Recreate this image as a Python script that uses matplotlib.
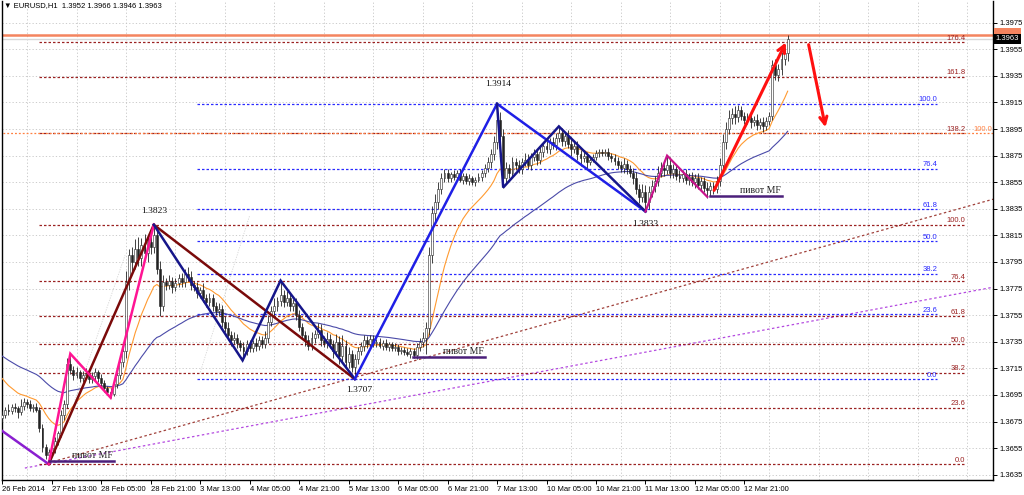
import matplotlib
matplotlib.use('Agg')
import matplotlib.pyplot as plt
from matplotlib.patches import FancyArrowPatch
from matplotlib.transforms import blended_transform_factory

plt.rcParams['font.family'] = ['Liberation Sans', 'DejaVu Sans']

# ---------------- data (prices in pips above 1.3600) ----------------
BASE = 1.3600
PIP = 0.0001
first_open = 78
closes = [80, 84, 83, 86, 85, 82, 87, 90, 88, 85,
          86, 84, 70, 56, 50, 52, 55, 60, 66, 80,
          88, 118, 114, 110, 112, 108, 110, 111, 107, 109,
          112, 108, 104, 100, 97, 96, 103, 110, 120, 128,
          180, 200, 195, 205, 198, 208, 202, 210, 206, 215,
          190, 162, 180, 178, 181, 176, 179, 183, 180, 186,
          184, 178, 176, 172, 174, 168, 165, 168, 162, 158,
          160, 150, 145, 140, 136, 138, 134, 131, 128, 133,
          130, 134, 132, 136, 133, 138, 150, 158, 162, 166,
          170, 165, 168, 162, 164, 155, 146, 140, 136, 132,
          138, 141, 144, 136, 134, 137, 133, 128, 135, 124,
          132, 120, 126, 116, 122, 128, 132, 136, 133, 137,
          134, 135, 132, 134, 131, 133, 130, 131, 128, 129,
          127, 126, 128, 125, 131, 135, 138, 145, 200, 232,
          240, 250, 258, 262, 258, 261, 259, 262, 257, 260,
          256, 258, 255, 257, 259, 262, 266, 270, 276, 285,
          302, 290, 258, 266, 262, 270, 268, 265, 270, 272,
          268, 274, 276, 272, 278, 282, 280, 285, 283, 288,
          292, 286, 290, 284, 280, 282, 276, 273, 275, 270,
          272, 274, 277, 278, 277, 278, 275, 273, 271, 268,
          266, 269, 265, 262, 258, 250, 244, 248, 240, 248,
          252, 256, 262, 266, 264, 268, 262, 265, 260, 258,
          261, 257, 259, 255, 258, 253, 256, 251, 249, 252,
          250, 256, 268, 285, 295, 303, 306, 304, 309, 305,
          302, 303, 300, 302, 298, 300, 297, 301, 305, 343,
          336, 340, 348, 352, 363]
upper_wick = [3, 2, 4, 2, 3, 2, 5, 3, 2, 3,
              2, 3, 2, 3, 2, 2, 4, 3, 2, 4,
              3, 5, 7, 3, 4, 2, 3, 4, 2, 3,
              3, 2, 3, 2, 2, 3, 4, 3, 5, 4,
              8, 5, 6, 7, 9, 5, 8, 4, 6, 9,
              4, 6, 5, 3, 4, 3, 4, 3, 4, 4,
              5, 4, 3, 4, 2, 5, 3, 4, 3, 3,
              4, 3, 4, 5, 3, 4, 3, 2, 4, 3,
              3, 2, 4, 3, 3, 5, 5, 4, 6, 3,
              11, 4, 5, 4, 3, 4, 4, 3, 3, 4,
              4, 3, 5, 4, 3, 5, 4, 3, 6, 4,
              8, 4, 5, 3, 4, 3, 3, 4, 3, 3,
              3, 2, 3, 2, 3, 2, 2, 3, 2, 2,
              2, 3, 2, 2, 3, 3, 4, 5, 6, 5,
              6, 5, 4, 3, 3, 2, 3, 2, 3, 2,
              2, 3, 2, 2, 3, 2, 3, 4, 4, 5,
              12, 6, 5, 4, 3, 4, 3, 4, 3, 5,
              4, 3, 4, 3, 4, 3, 4, 3, 4, 4,
              5, 4, 3, 4, 5, 3, 4, 3, 4, 3,
              3, 2, 2, 2, 2, 2, 3, 2, 3, 3,
              3, 4, 3, 3, 4, 5, 4, 6, 5, 4,
              5, 4, 5, 4, 5, 7, 6, 4, 3, 4,
              3, 4, 3, 4, 3, 4, 3, 3, 4, 3,
              3, 4, 5, 6, 5, 6, 5, 6, 4, 3,
              3, 4, 3, 3, 4, 3, 4, 3, 3, 4,
              5, 4, 5, 4, 3]
lower_wick = [3, 2, 3, 2, 3, 4, 2, 3, 3, 2,
              3, 2, 3, 4, 3, 7, 3, 4, 3, 3,
              4, 3, 3, 4, 2, 3, 3, 2, 3, 3,
              3, 3, 4, 3, 2, 3, 2, 3, 3, 4,
              5, 6, 7, 5, 6, 6, 5, 7, 5, 4,
              4, 8, 4, 4, 3, 4, 3, 3, 4, 4,
              3, 4, 3, 4, 4, 3, 4, 3, 4, 3,
              4, 4, 3, 4, 4, 3, 4, 3, 7, 3,
              3, 3, 4, 3, 3, 3, 4, 3, 4, 4,
              4, 4, 3, 4, 4, 4, 3, 3, 4, 3,
              3, 4, 3, 4, 3, 4, 3, 5, 4, 6,
              5, 4, 5, 4, 8, 4, 3, 4, 3, 3,
              3, 3, 2, 3, 2, 3, 2, 2, 3, 2,
              2, 2, 3, 2, 3, 3, 4, 12, 5, 6,
              6, 5, 4, 3, 3, 3, 2, 3, 2, 3,
              2, 3, 2, 3, 2, 3, 3, 3, 4, 4,
              5, 6, 7, 4, 4, 3, 4, 3, 4, 3,
              3, 4, 3, 4, 3, 4, 3, 4, 3, 4,
              3, 4, 4, 3, 5, 3, 4, 6, 3, 4,
              2, 2, 2, 3, 2, 2, 3, 3, 3, 3,
              3, 4, 4, 3, 4, 4, 5, 4, 6, 5,
              4, 4, 4, 3, 4, 3, 4, 4, 3, 3,
              3, 3, 4, 3, 4, 3, 4, 3, 6, 4,
              4, 3, 4, 5, 5, 4, 4, 5, 4, 3,
              3, 3, 4, 3, 4, 3, 4, 3, 3, 3,
              4, 5, 4, 5, 6]

time_labels = ['26 Feb 2014', '27 Feb 13:00', '28 Feb 05:00', '28 Feb 21:00',
               '3 Mar 13:00', '4 Mar 05:00', '4 Mar 21:00', '5 Mar 13:00',
               '6 Mar 05:00', '6 Mar 21:00', '7 Mar 13:00', '10 Mar 05:00',
               '10 Mar 21:00', '11 Mar 13:00', '12 Mar 05:00', '12 Mar 21:00']
price_ticks = [1.3635, 1.3655, 1.3675, 1.3695, 1.3715, 1.3735, 1.3755, 1.3775,
               1.3795, 1.3815, 1.3835, 1.3855, 1.3875, 1.3895, 1.3915, 1.3935,
               1.3955, 1.3975]

ma_fast_start, ma_fast_span = 1.3711, 16
ma_slow_start, ma_slow_span = 1.3726, 50

# zigzag / drawing objects (bar index, price)
zz_purple = [(-0.7, 1.3669), (15, 1.3643)]
zz_pink = [(15, 1.3643), (22, 1.3726), (35, 1.3693), (49, 1.3823)]
zz_maroon = [(15, 1.3643), (49, 1.3823), (114, 1.3707)]
zz_navy1 = [(49, 1.3823), (77.7, 1.3721), (90, 1.3781), (114, 1.3707)]
zz_blue = [(114, 1.3707), (160, 1.3914), (208, 1.3833)]
zz_navy2 = [(160, 1.3914), (162, 1.3851), (180, 1.3897), (208, 1.3833)]
zz_magenta = [(208, 1.3833), (215, 1.3875), (228, 1.3844)]
arrow_up = [(229.8, 1.3847), (253.8, 1.3962)]
arrow_down = [(260.6, 1.39605), (266.4, 1.38943)]

fib_blue_low, fib_blue_high = 1.3707, 1.3914
fib_blue_ratios = [0.0, 23.6, 38.2, 50.0, 61.8, 76.4, 100.0]
fib_red_low, fib_red_high = 1.3643, 1.3823
fib_red_ratios = [0.0, 23.6, 38.2, 50.0, 61.8, 76.4, 100.0, 138.2, 161.8, 176.4]
orange_level = 1.3892
top_line = 1.3966
bid_price = 1.3963

trend_brown = [(14.8, 1.36438), (320.4, 1.38422)]
trend_violet = [(7.3, 1.3640), (320.4, 1.3776)]
faint_lines = [[(23.5, 1.3691), (39.7, 1.3800)], [(64, 1.3712), (80, 1.3830)]]

pivots = [(15.1, 36.1, 1.3645), (132.8, 156.1, 1.37235), (228.9, 252.2, 1.38447)]
price_marks = [(49, 1.38332, '1.3823'), (160.3, 1.39289, '1.3914'),
               (115.4, 1.36987, '1.3707'), (207.9, 1.38236, '1.3833')]

# ---------------- figure ----------------
W, H = 1024, 495
fig = plt.figure(figsize=(W / 100, H / 100), dpi=100)
ax = fig.add_axes([2 / W, 15 / H, 991 / W, 479 / H])
ax.set_xlim(-0.097, 320.4)
ax.set_ylim(1.363101, 1.399132)

# grid
for p in price_ticks:
    ax.axhline(p, color='#c4c4c4', lw=0.6, ls=(0, (1.5, 2.5)), zorder=0)
for b in range(8, 321, 16):
    ax.axvline(b, color='#c4c4c4', lw=0.6, ls=(0, (1.5, 2.5)), zorder=0)

# trend lines
for seg, col in [(trend_brown, '#a0403a'), (trend_violet, '#b44ae0')]:
    ax.plot([seg[0][0], seg[1][0]], [seg[0][1], seg[1][1]], color=col, lw=0.9,
            ls=(0, (2, 2)), zorder=1)
for seg in faint_lines:
    ax.plot([seg[0][0], seg[1][0]], [seg[0][1], seg[1][1]], color='#d6d6d6', lw=0.6,
            ls=(0, (1.5, 1.5)), zorder=1)

# fib levels
for r in fib_red_ratios:
    lvl = fib_red_low + (fib_red_high - fib_red_low) * r / 100
    ax.plot([12, 311.4], [lvl, lvl], color='#9b2222', lw=0.9, ls=(0, (2, 1.6)), zorder=1)
    ax.text(311.4, lvl + 0.00003, f'{r:.1f}', color='#9b2222', fontsize=5.5,
            ha='right', va='bottom', zorder=5)
for r in fib_blue_ratios:
    lvl = fib_blue_low + (fib_blue_high - fib_blue_low) * r / 100
    ax.plot([63, 302.3], [lvl, lvl], color='#2a2aff', lw=0.9, ls=(0, (2, 1.6)), zorder=1)
    ax.text(302.3, lvl + 0.00003, f'{r:.1f}', color='#2a2aff', fontsize=5.5,
            ha='right', va='bottom', zorder=5)
ax.plot([-1, 321], [orange_level, orange_level], color='#ff7f3f', lw=0.9,
        ls=(0, (1.5, 1.6)), zorder=1)
ax.text(320.0, orange_level + 0.00003, '100.0', color='#ff7f3f', fontsize=5.5,
        ha='right', va='bottom', zorder=5)

# top line and bid line
ax.axhline(top_line, color='#f4845f', lw=1.8, zorder=2)
ax.axhline(bid_price, color='#d8d8d8', lw=1.0, zorder=1)

# moving averages
def ema(values, start, span):
    a = 2.0 / (span + 1)
    out, v = [], start
    for c in values:
        v = v + a * (c - v)
        out.append(v)
    return out

n = len(closes)
xs = list(range(n))
cl = [BASE + c * PIP for c in closes]
op = [BASE + first_open * PIP] + cl[:-1]
hi = [max(o, c) + u * PIP for o, c, u in zip(op, cl, upper_wick)]
lo = [min(o, c) - d * PIP for o, c, d in zip(op, cl, lower_wick)]

ax.plot(xs, ema(cl, ma_fast_start, ma_fast_span), color='#ff9a30', lw=0.8, zorder=3)
ax.plot(xs, ema(cl, ma_slow_start, ma_slow_span), color='#4a4aa8', lw=0.8, zorder=3)

# candles
ax.vlines(xs, lo, hi, color='#222222', lw=0.6, zorder=4)
for i in range(n):
    o, c = op[i], cl[i]
    h = max(abs(c - o), 0.00003)
    bull = c >= o
    ax.bar(i, h, bottom=min(o, c), width=0.62,
           color='white' if bull else '#222222', edgecolor='#222222', lw=0.4, zorder=4)

# zigzags
def poly(pts, col, lw, z=6):
    ax.plot([p[0] for p in pts], [p[1] for p in pts], color=col, lw=lw, zorder=z,
            solid_joinstyle='miter')

poly(zz_purple, '#8a1fd0', 1.8)
poly(zz_maroon, '#7a0a0a', 1.8)
poly(zz_pink, '#ff1493', 1.8)
poly(zz_navy1, '#16168a', 1.8)
poly(zz_blue, '#1f1fe6', 1.8)
poly(zz_navy2, '#16168a', 1.8)
poly(zz_magenta, '#c8148c', 1.6)

for seg in (arrow_up, arrow_down):
    ax.add_patch(FancyArrowPatch(seg[0], seg[1], arrowstyle='->', mutation_scale=13,
                                 color='#ff1010', lw=2.2, zorder=7))

# pivots
for b0, b1, p in pivots:
    ax.plot([b0, b1], [p, p], color='#4b1f7a', lw=1.8, zorder=6)
    ax.text(b1 - 0.5, p + 0.00008, 'пивот MF', family=['Liberation Serif', 'DejaVu Serif'],
            fontsize=7, color='#222222', ha='right', va='bottom', zorder=7)

for b, p, t in price_marks:
    ax.text(b, p, t, family=['Liberation Serif', 'DejaVu Serif'], fontsize=6.8,
            color='#111111', ha='center', va='center', zorder=7)

# axes styling
ax.spines['top'].set_visible(False)
for s in ['left', 'bottom', 'right']:
    ax.spines[s].set_color('black')
    ax.spines[s].set_linewidth(1.0)

ax.set_xticks(range(0, 16 * len(time_labels), 16))
ax.set_xticklabels(time_labels, fontsize=5.5, ha='left')
ax.tick_params(axis='x', direction='out', length=3, width=0.7, pad=1.5)
ax.yaxis.tick_right()
ax.set_yticks(price_ticks)
ax.set_yticklabels([f'{p:.4f}' for p in price_ticks], fontsize=5.5)
ax.tick_params(axis='y', direction='out', length=3, width=0.7, pad=1.5)

# price boxes on the right axis
tr = blended_transform_factory(ax.transAxes, ax.transData)
ax.text(1.0025, top_line + 0.00008, '1.3966', transform=tr, fontsize=5.5, color='#f4845f',
        ha='left', va='center', clip_on=False, zorder=8,
        bbox=dict(boxstyle='square,pad=0.25', fc='#f4845f', ec='none'))
ax.text(1.0025, bid_price - 0.00002, '1.3963', transform=tr, fontsize=5.5, color='white',
        ha='left', va='center', clip_on=False, zorder=9,
        bbox=dict(boxstyle='square,pad=0.25', fc='black', ec='none'))

fig.text(4 / W, 1 - 6 / H, '▼ EURUSD,H1  1.3952 1.3966 1.3946 1.3963', fontsize=5.5,
         ha='left', va='center')

fig.savefig('out.png', dpi=100)
